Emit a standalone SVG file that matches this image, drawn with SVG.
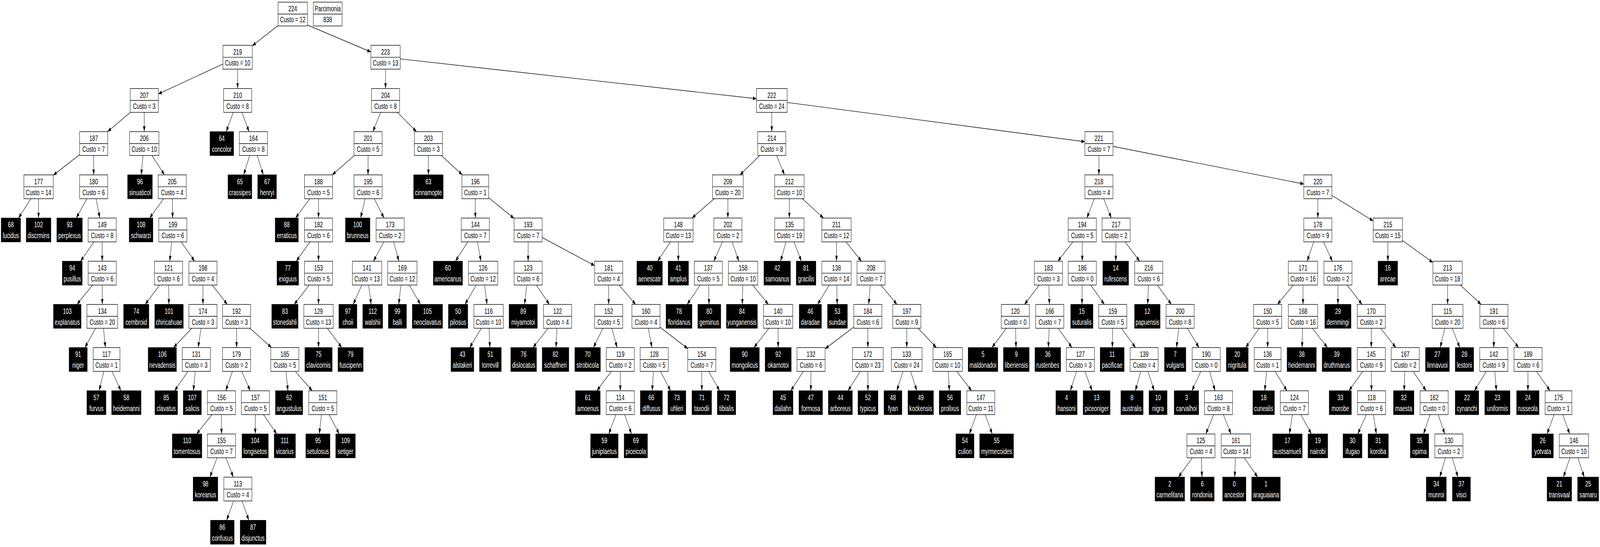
<svg xmlns="http://www.w3.org/2000/svg" width="6462" height="1401" viewBox="0 0 6462 1401" preserveAspectRatio="none" style="width:100vw;height:100vh;display:block">
<style>
.i rect{fill:#fff;stroke:#000;stroke-width:1.4}
.i path{stroke:#000;stroke-width:1.4;fill:none}
.f rect{fill:#000;stroke:#000;stroke-width:1.4}
text{font-family:"Liberation Sans",Arial,sans-serif;font-size:21px;text-anchor:middle}
.i text{fill:#000}
.f text{fill:#fff}
#edges path{stroke:#000;stroke-width:1.4;fill:none;marker-end:url(#ah)}
</style>
<defs>
<marker id="ah" markerUnits="userSpaceOnUse" markerWidth="14" markerHeight="10" refX="14" refY="5" orient="auto" viewBox="0 0 14 10"><path d="M0,0L14,5L0,10z" fill="#000"/></marker>
</defs>
<rect width="6462" height="1401" fill="#fff"/>
<g id="edges">
<path d="M1182.3 36L1019 117.2"/>
<path d="M1241.5 64L1497.8 133"/>
<path d="M959.7 146.6L639.4 240.6"/>
<path d="M959.7 146.6L959.7 226.7"/>
<path d="M1557 146.6L1557 226.7"/>
<path d="M1557 146.6L3055 252.8"/>
<path d="M582.6 257.2L434.6 337.3"/>
<path d="M582.6 257.2L582.6 337.3"/>
<path d="M959.7 257.2L913.4 337.3"/>
<path d="M959.7 257.2L1005.9 337.3"/>
<path d="M1557 257.2L1505.9 337.3"/>
<path d="M1557 257.2L1682.4 337.3"/>
<path d="M3117 257.2L3117 337.3"/>
<path d="M3117 257.2L4381.5 363"/>
<path d="M378.3 367.8L215 449"/>
<path d="M378.3 367.8L378.3 447.9"/>
<path d="M582.6 367.8L570.1 447.9"/>
<path d="M582.6 367.8L664.4 447.9"/>
<path d="M1023.5 367.8L984 447.9"/>
<path d="M1023.5 367.8L1063.5 447.9"/>
<path d="M1486.5 367.8L1341.6 447.9"/>
<path d="M1486.5 367.8L1486.5 447.9"/>
<path d="M1730.2 367.8L1730.3 447.9"/>
<path d="M1730.2 367.8L1867.4 447.9"/>
<path d="M3117 367.8L2988.6 447.9"/>
<path d="M3117 367.8L3168.4 447.9"/>
<path d="M4438.2 367.8L4438.2 447.9"/>
<path d="M4438.2 367.8L5265.8 471.3"/>
<path d="M155.7 478.4L74.7 558.5"/>
<path d="M155.7 478.4L155.7 558.5"/>
<path d="M378.3 478.4L307.8 558.5"/>
<path d="M378.3 478.4L403.3 558.5"/>
<path d="M695.5 478.4L604.3 558.5"/>
<path d="M695.5 478.4L697.3 558.5"/>
<path d="M1286.4 478.4L1193.6 558.5"/>
<path d="M1286.4 478.4L1286.4 558.5"/>
<path d="M1486.5 478.4L1456.2 558.5"/>
<path d="M1486.5 478.4L1551.2 558.5"/>
<path d="M1919.7 478.4L1919.7 558.5"/>
<path d="M1919.7 478.4L2076.3 559.6"/>
<path d="M2939.7 478.4L2794.9 558.5"/>
<path d="M2939.7 478.4L2939.7 558.5"/>
<path d="M3188 478.4L3188 558.5"/>
<path d="M3188 478.4L3325.9 558.5"/>
<path d="M4438.2 478.4L4389.5 558.5"/>
<path d="M4438.2 478.4L4488.5 558.5"/>
<path d="M5322.5 478.4L5322.5 558.5"/>
<path d="M5322.5 478.4L5546 565.8"/>
<path d="M412.8 589L325.2 669.1"/>
<path d="M412.8 589L412.8 669.1"/>
<path d="M698 589L685.5 669.1"/>
<path d="M698 589L786.1 669.1"/>
<path d="M1286.4 589L1196.5 669.1"/>
<path d="M1286.4 589L1286.4 669.1"/>
<path d="M1575.8 589L1508.2 669.1"/>
<path d="M1575.8 589L1611.4 669.1"/>
<path d="M1919.7 589L1839.5 669.1"/>
<path d="M1919.7 589L1942.4 669.1"/>
<path d="M2133 589L2133 669.1"/>
<path d="M2133 589L2401.6 680.3"/>
<path d="M2739.8 589L2655.7 669.1"/>
<path d="M2739.8 589L2739.6 669.1"/>
<path d="M2939.7 589L2882.6 669.1"/>
<path d="M2939.7 589L2984.2 669.1"/>
<path d="M3188 589L3152.5 669.1"/>
<path d="M3188 589L3236.9 669.1"/>
<path d="M3378.4 589L3378.4 669.1"/>
<path d="M3378.4 589L3479.5 669.1"/>
<path d="M4371 589L4272.1 669.1"/>
<path d="M4371 589L4371 669.1"/>
<path d="M4507.6 589L4506.4 669.1"/>
<path d="M4507.6 589L4603.1 669.1"/>
<path d="M5322.5 589L5279 669.1"/>
<path d="M5322.5 589L5381.2 669.1"/>
<path d="M5605.2 589L5605.2 669.1"/>
<path d="M5605.2 589L5787 672.4"/>
<path d="M412.8 699.6L310.7 779.7"/>
<path d="M412.8 699.6L413.1 779.7"/>
<path d="M680.8 699.6L586.3 779.7"/>
<path d="M680.8 699.6L682.1 779.7"/>
<path d="M819.7 699.6L819.7 779.7"/>
<path d="M819.7 699.6L918 779.7"/>
<path d="M1286.4 699.6L1188.1 779.7"/>
<path d="M1286.4 699.6L1286.4 779.7"/>
<path d="M1482.5 699.6L1426.4 779.7"/>
<path d="M1482.5 699.6L1499 779.7"/>
<path d="M1624.9 699.6L1610.4 779.7"/>
<path d="M1624.9 699.6L1698.3 779.7"/>
<path d="M1951.1 699.6L1877.9 779.7"/>
<path d="M1951.1 699.6L1967.1 779.7"/>
<path d="M2133 699.6L2118.6 779.7"/>
<path d="M2133 699.6L2219.1 779.7"/>
<path d="M2458.3 699.6L2458.3 779.7"/>
<path d="M2458.3 699.6L2567.4 779.7"/>
<path d="M2860.8 699.6L2775 779.7"/>
<path d="M2860.8 699.6L2863.6 779.7"/>
<path d="M3001.1 699.6L2997.8 779.7"/>
<path d="M3001.1 699.6L3103.4 779.7"/>
<path d="M3378.4 699.6L3301.9 779.7"/>
<path d="M3378.4 699.6L3381.2 779.7"/>
<path d="M3518 699.6L3508.6 779.7"/>
<path d="M3518 699.6L3622.6 779.7"/>
<path d="M4234.5 699.6L4137.5 779.7"/>
<path d="M4234.5 699.6L4238.3 779.7"/>
<path d="M4371 699.6L4369.8 779.7"/>
<path d="M4371 699.6L4460.3 779.7"/>
<path d="M4639.5 699.6L4635.4 779.7"/>
<path d="M4639.5 699.6L4731.2 779.7"/>
<path d="M5262.5 699.6L5159.1 779.7"/>
<path d="M5262.5 699.6L5262.5 779.7"/>
<path d="M5403.6 699.6L5403.6 779.7"/>
<path d="M5403.6 699.6L5501.1 779.7"/>
<path d="M5846.3 699.6L5846.6 779.7"/>
<path d="M5846.3 699.6L5981.8 779.7"/>
<path d="M413.2 810.2L342.6 890.3"/>
<path d="M413.2 810.2L425.7 890.3"/>
<path d="M819.7 810.2L700.8 890.3"/>
<path d="M819.7 810.2L800.1 890.3"/>
<path d="M955.5 810.2L955.5 890.3"/>
<path d="M955.5 810.2L1096.6 890.3"/>
<path d="M1286.4 810.2L1286.4 890.3"/>
<path d="M1286.4 810.2L1380.2 890.3"/>
<path d="M1973.2 810.2L1896.7 890.3"/>
<path d="M1973.2 810.2L1978.5 890.3"/>
<path d="M2251.9 810.2L2152.6 890.3"/>
<path d="M2251.9 810.2L2245.8 890.3"/>
<path d="M2458.3 810.2L2396.7 890.3"/>
<path d="M2458.3 810.2L2492.3 890.3"/>
<path d="M2609 810.2L2633.1 890.3"/>
<path d="M2609 810.2L2777.8 893"/>
<path d="M3142.4 810.2L3044.9 890.3"/>
<path d="M3142.4 810.2L3142.8 890.3"/>
<path d="M3505 810.2L3332.3 893.5"/>
<path d="M3505 810.2L3505 890.3"/>
<path d="M3662.5 810.2L3662.2 890.3"/>
<path d="M3662.5 810.2L3781.9 890.3"/>
<path d="M4100.5 810.2L4006 890.3"/>
<path d="M4100.5 810.2L4103.5 890.3"/>
<path d="M4239.7 810.2L4233.9 890.3"/>
<path d="M4239.7 810.2L4329.3 890.3"/>
<path d="M4494.3 810.2L4492.5 890.3"/>
<path d="M4494.3 810.2L4586 890.3"/>
<path d="M4766.1 810.2L4751.7 890.3"/>
<path d="M4766.1 810.2L4842.6 890.3"/>
<path d="M5119.7 810.2L5030.8 890.3"/>
<path d="M5119.7 810.2L5119.7 890.3"/>
<path d="M5262.5 810.2L5258.7 890.3"/>
<path d="M5262.5 810.2L5361.1 890.3"/>
<path d="M5538.2 810.2L5538.2 890.3"/>
<path d="M5538.2 810.2L5637.5 890.3"/>
<path d="M5846.7 810.2L5816.7 890.3"/>
<path d="M5846.7 810.2L5895.7 890.3"/>
<path d="M6033.4 810.2L6033.1 890.3"/>
<path d="M6033.4 810.2L6133.4 890.3"/>
<path d="M430.4 920.8L400.6 1000.9"/>
<path d="M430.4 920.8L488.3 1000.9"/>
<path d="M792.7 920.8L704.9 1000.9"/>
<path d="M792.7 920.8L781 1000.9"/>
<path d="M955.5 920.8L911.3 1000.9"/>
<path d="M955.5 920.8L1010.6 1000.9"/>
<path d="M1150.3 920.8L1162.8 1000.9"/>
<path d="M1150.3 920.8L1261.3 1000.9"/>
<path d="M2505.2 920.8L2410.4 1000.9"/>
<path d="M2505.2 920.8L2505.2 1000.9"/>
<path d="M2642.3 920.8L2633.9 1000.9"/>
<path d="M2642.3 920.8L2708.6 1000.9"/>
<path d="M2834.5 920.8L2834.4 1000.9"/>
<path d="M2834.5 920.8L2906.6 1000.9"/>
<path d="M3275.5 920.8L3193.5 1000.9"/>
<path d="M3275.5 920.8L3274.7 1000.9"/>
<path d="M3505 920.8L3424.7 1000.9"/>
<path d="M3505 920.8L3505.4 1000.9"/>
<path d="M3662.1 920.8L3621.8 1000.9"/>
<path d="M3662.1 920.8L3703 1000.9"/>
<path d="M3827.3 920.8L3834.2 1000.9"/>
<path d="M3827.3 920.8L3924.3 1000.9"/>
<path d="M4363.4 920.8L4322.8 1000.9"/>
<path d="M4363.4 920.8L4410.9 1000.9"/>
<path d="M4620.9 920.8L4585.3 1000.9"/>
<path d="M4620.9 920.8L4661.6 1000.9"/>
<path d="M4871.7 920.8L4813.8 1000.9"/>
<path d="M4871.7 920.8L4907.5 1000.9"/>
<path d="M5119.7 920.8L5108 1000.9"/>
<path d="M5119.7 920.8L5197.9 1000.9"/>
<path d="M5538.2 920.8L5447.7 1000.9"/>
<path d="M5538.2 920.8L5539.1 1000.9"/>
<path d="M5675.3 920.8L5670.9 1000.9"/>
<path d="M5675.3 920.8L5759.8 1000.9"/>
<path d="M6033 920.8L5954.6 1000.9"/>
<path d="M6033 920.8L6043.6 1000.9"/>
<path d="M6171.5 920.8L6170.8 1000.9"/>
<path d="M6171.5 920.8L6260.5 1000.9"/>
<path d="M894.5 1031.4L793.8 1111.5"/>
<path d="M894.5 1031.4L894.5 1111.5"/>
<path d="M1031.6 1031.4L1030.9 1111.5"/>
<path d="M1031.6 1031.4L1117.6 1111.5"/>
<path d="M1303.6 1031.4L1289.4 1111.5"/>
<path d="M1303.6 1031.4L1370.2 1111.5"/>
<path d="M2505.2 1031.4L2458.6 1111.5"/>
<path d="M2505.2 1031.4L2550.6 1111.5"/>
<path d="M3961.3 1031.4L3914.8 1111.5"/>
<path d="M3961.3 1031.4L4007.5 1111.5"/>
<path d="M4921.2 1031.4L4869.9 1111.5"/>
<path d="M4921.2 1031.4L4972 1111.5"/>
<path d="M5227.7 1031.4L5207.3 1111.5"/>
<path d="M5227.7 1031.4L5296.4 1111.5"/>
<path d="M5539.4 1031.4L5483.7 1111.5"/>
<path d="M5539.4 1031.4L5558.8 1111.5"/>
<path d="M5792 1031.4L5749.3 1111.5"/>
<path d="M5792 1031.4L5835.2 1111.5"/>
<path d="M6294.4 1031.4L6248.1 1111.5"/>
<path d="M6294.4 1031.4L6339.5 1111.5"/>
<path d="M894.5 1142L847.7 1222.1"/>
<path d="M894.5 1142L942.4 1222.1"/>
<path d="M4850.3 1142L4759.3 1222.1"/>
<path d="M4850.3 1142L4854.4 1222.1"/>
<path d="M4991.3 1142L4986.7 1222.1"/>
<path d="M4991.3 1142L5079.5 1222.1"/>
<path d="M5851.6 1142L5814.8 1222.1"/>
<path d="M5851.6 1142L5888.2 1222.1"/>
<path d="M6356.7 1142L6314.1 1222.1"/>
<path d="M6356.7 1142L6398.3 1222.1"/>
<path d="M960.7 1252.6L915.2 1332.7"/>
<path d="M960.7 1252.6L1005.2 1332.7"/>
</g>
<g id="nodes">
<g id="parcimonia" class="i" transform="translate(1323.6 5.5)"><rect x="-58.2" width="116.4" height="61"/><path d="M-58.2 30.5H58.2"/><text y="24">Parcimonia</text><text y="52">838</text></g>
<g id="n224" class="i" transform="translate(1182.3 5.5)"><rect x="-59.25" width="118.5" height="61"/><path d="M-59.25 30.5H59.25"/><text y="24">224</text><text y="52">Custo = 12</text></g>
<g id="n219" class="i" transform="translate(959.7 116.1)"><rect x="-59.25" width="118.5" height="61"/><path d="M-59.25 30.5H59.25"/><text y="24">219</text><text y="52">Custo = 10</text></g>
<g id="n223" class="i" transform="translate(1557 116.1)"><rect x="-59.25" width="118.5" height="61"/><path d="M-59.25 30.5H59.25"/><text y="24">223</text><text y="52">Custo = 13</text></g>
<g id="n207" class="i" transform="translate(582.6 226.7)"><rect x="-56.75" width="113.5" height="61"/><path d="M-56.75 30.5H56.75"/><text y="24">207</text><text y="52">Custo = 3</text></g>
<g id="n210" class="i" transform="translate(959.7 226.7)"><rect x="-56.75" width="113.5" height="61"/><path d="M-56.75 30.5H56.75"/><text y="24">210</text><text y="52">Custo = 8</text></g>
<g id="n204" class="i" transform="translate(1557 226.7)"><rect x="-56.75" width="113.5" height="61"/><path d="M-56.75 30.5H56.75"/><text y="24">204</text><text y="52">Custo = 8</text></g>
<g id="n222" class="i" transform="translate(3117 226.7)"><rect x="-62" width="124" height="61"/><path d="M-62 30.5H62"/><text y="24">222</text><text y="52">Custo = 24</text></g>
<g id="n187" class="i" transform="translate(378.3 337.3)"><rect x="-56.75" width="113.5" height="61"/><path d="M-56.75 30.5H56.75"/><text y="24">187</text><text y="52">Custo = 7</text></g>
<g id="n206" class="i" transform="translate(582.6 337.3)"><rect x="-59.25" width="118.5" height="61"/><path d="M-59.25 30.5H59.25"/><text y="24">206</text><text y="52">Custo = 10</text></g>
<g id="n164" class="i" transform="translate(1023.5 337.3)"><rect x="-56.75" width="113.5" height="61"/><path d="M-56.75 30.5H56.75"/><text y="24">164</text><text y="52">Custo = 8</text></g>
<g id="n201" class="i" transform="translate(1486.5 337.3)"><rect x="-56.75" width="113.5" height="61"/><path d="M-56.75 30.5H56.75"/><text y="24">201</text><text y="52">Custo = 5</text></g>
<g id="n203" class="i" transform="translate(1730.2 337.3)"><rect x="-56.75" width="113.5" height="61"/><path d="M-56.75 30.5H56.75"/><text y="24">203</text><text y="52">Custo = 3</text></g>
<g id="n214" class="i" transform="translate(3117 337.3)"><rect x="-56.75" width="113.5" height="61"/><path d="M-56.75 30.5H56.75"/><text y="24">214</text><text y="52">Custo = 8</text></g>
<g id="n221" class="i" transform="translate(4438.2 337.3)"><rect x="-56.75" width="113.5" height="61"/><path d="M-56.75 30.5H56.75"/><text y="24">221</text><text y="52">Custo = 7</text></g>
<g id="n177" class="i" transform="translate(155.7 447.9)"><rect x="-59.25" width="118.5" height="61"/><path d="M-59.25 30.5H59.25"/><text y="24">177</text><text y="52">Custo = 14</text></g>
<g id="n180" class="i" transform="translate(378.3 447.9)"><rect x="-56.75" width="113.5" height="61"/><path d="M-56.75 30.5H56.75"/><text y="24">180</text><text y="52">Custo = 6</text></g>
<g id="n205" class="i" transform="translate(695.5 447.9)"><rect x="-56.75" width="113.5" height="61"/><path d="M-56.75 30.5H56.75"/><text y="24">205</text><text y="52">Custo = 4</text></g>
<g id="n188" class="i" transform="translate(1286.4 447.9)"><rect x="-56.75" width="113.5" height="61"/><path d="M-56.75 30.5H56.75"/><text y="24">188</text><text y="52">Custo = 5</text></g>
<g id="n195" class="i" transform="translate(1486.5 447.9)"><rect x="-56.75" width="113.5" height="61"/><path d="M-56.75 30.5H56.75"/><text y="24">195</text><text y="52">Custo = 6</text></g>
<g id="n196" class="i" transform="translate(1919.7 447.9)"><rect x="-54" width="108" height="61"/><path d="M-54 30.5H54"/><text y="24">196</text><text y="52">Custo = 1</text></g>
<g id="n209" class="i" transform="translate(2939.7 447.9)"><rect x="-62" width="124" height="61"/><path d="M-62 30.5H62"/><text y="24">209</text><text y="52">Custo = 20</text></g>
<g id="n212" class="i" transform="translate(3188 447.9)"><rect x="-59.25" width="118.5" height="61"/><path d="M-59.25 30.5H59.25"/><text y="24">212</text><text y="52">Custo = 10</text></g>
<g id="n218" class="i" transform="translate(4438.2 447.9)"><rect x="-56.75" width="113.5" height="61"/><path d="M-56.75 30.5H56.75"/><text y="24">218</text><text y="52">Custo = 4</text></g>
<g id="n220" class="i" transform="translate(5322.5 447.9)"><rect x="-56.75" width="113.5" height="61"/><path d="M-56.75 30.5H56.75"/><text y="24">220</text><text y="52">Custo = 7</text></g>
<g id="n149" class="i" transform="translate(412.8 558.5)"><rect x="-56.75" width="113.5" height="61"/><path d="M-56.75 30.5H56.75"/><text y="24">149</text><text y="52">Custo = 8</text></g>
<g id="n199" class="i" transform="translate(698 558.5)"><rect x="-56.75" width="113.5" height="61"/><path d="M-56.75 30.5H56.75"/><text y="24">199</text><text y="52">Custo = 6</text></g>
<g id="n182" class="i" transform="translate(1286.4 558.5)"><rect x="-56.75" width="113.5" height="61"/><path d="M-56.75 30.5H56.75"/><text y="24">182</text><text y="52">Custo = 6</text></g>
<g id="n173" class="i" transform="translate(1575.8 558.5)"><rect x="-56.75" width="113.5" height="61"/><path d="M-56.75 30.5H56.75"/><text y="24">173</text><text y="52">Custo = 2</text></g>
<g id="n144" class="i" transform="translate(1919.7 558.5)"><rect x="-56.75" width="113.5" height="61"/><path d="M-56.75 30.5H56.75"/><text y="24">144</text><text y="52">Custo = 7</text></g>
<g id="n193" class="i" transform="translate(2133 558.5)"><rect x="-56.75" width="113.5" height="61"/><path d="M-56.75 30.5H56.75"/><text y="24">193</text><text y="52">Custo = 7</text></g>
<g id="n148" class="i" transform="translate(2739.8 558.5)"><rect x="-59.25" width="118.5" height="61"/><path d="M-59.25 30.5H59.25"/><text y="24">148</text><text y="52">Custo = 13</text></g>
<g id="n202" class="i" transform="translate(2939.7 558.5)"><rect x="-56.75" width="113.5" height="61"/><path d="M-56.75 30.5H56.75"/><text y="24">202</text><text y="52">Custo = 2</text></g>
<g id="n135" class="i" transform="translate(3188 558.5)"><rect x="-59.25" width="118.5" height="61"/><path d="M-59.25 30.5H59.25"/><text y="24">135</text><text y="52">Custo = 19</text></g>
<g id="n211" class="i" transform="translate(3378.4 558.5)"><rect x="-59.25" width="118.5" height="61"/><path d="M-59.25 30.5H59.25"/><text y="24">211</text><text y="52">Custo = 12</text></g>
<g id="n194" class="i" transform="translate(4371 558.5)"><rect x="-56.75" width="113.5" height="61"/><path d="M-56.75 30.5H56.75"/><text y="24">194</text><text y="52">Custo = 5</text></g>
<g id="n217" class="i" transform="translate(4507.6 558.5)"><rect x="-56.75" width="113.5" height="61"/><path d="M-56.75 30.5H56.75"/><text y="24">217</text><text y="52">Custo = 2</text></g>
<g id="n178" class="i" transform="translate(5322.5 558.5)"><rect x="-56.75" width="113.5" height="61"/><path d="M-56.75 30.5H56.75"/><text y="24">178</text><text y="52">Custo = 9</text></g>
<g id="n215" class="i" transform="translate(5605.2 558.5)"><rect x="-59.25" width="118.5" height="61"/><path d="M-59.25 30.5H59.25"/><text y="24">215</text><text y="52">Custo = 15</text></g>
<g id="n143" class="i" transform="translate(412.8 669.1)"><rect x="-56.75" width="113.5" height="61"/><path d="M-56.75 30.5H56.75"/><text y="24">143</text><text y="52">Custo = 6</text></g>
<g id="n121" class="i" transform="translate(680.8 669.1)"><rect x="-56.75" width="113.5" height="61"/><path d="M-56.75 30.5H56.75"/><text y="24">121</text><text y="52">Custo = 6</text></g>
<g id="n198" class="i" transform="translate(819.7 669.1)"><rect x="-56.75" width="113.5" height="61"/><path d="M-56.75 30.5H56.75"/><text y="24">198</text><text y="52">Custo = 4</text></g>
<g id="n153" class="i" transform="translate(1286.4 669.1)"><rect x="-56.75" width="113.5" height="61"/><path d="M-56.75 30.5H56.75"/><text y="24">153</text><text y="52">Custo = 5</text></g>
<g id="n141" class="i" transform="translate(1482.5 669.1)"><rect x="-59.25" width="118.5" height="61"/><path d="M-59.25 30.5H59.25"/><text y="24">141</text><text y="52">Custo = 13</text></g>
<g id="n169" class="i" transform="translate(1624.9 669.1)"><rect x="-59.25" width="118.5" height="61"/><path d="M-59.25 30.5H59.25"/><text y="24">169</text><text y="52">Custo = 12</text></g>
<g id="n126" class="i" transform="translate(1951.1 669.1)"><rect x="-59.25" width="118.5" height="61"/><path d="M-59.25 30.5H59.25"/><text y="24">126</text><text y="52">Custo = 12</text></g>
<g id="n123" class="i" transform="translate(2133 669.1)"><rect x="-56.75" width="113.5" height="61"/><path d="M-56.75 30.5H56.75"/><text y="24">123</text><text y="52">Custo = 6</text></g>
<g id="n181" class="i" transform="translate(2458.3 669.1)"><rect x="-56.75" width="113.5" height="61"/><path d="M-56.75 30.5H56.75"/><text y="24">181</text><text y="52">Custo = 4</text></g>
<g id="n137" class="i" transform="translate(2860.8 669.1)"><rect x="-56.75" width="113.5" height="61"/><path d="M-56.75 30.5H56.75"/><text y="24">137</text><text y="52">Custo = 5</text></g>
<g id="n158" class="i" transform="translate(3001.1 669.1)"><rect x="-59.25" width="118.5" height="61"/><path d="M-59.25 30.5H59.25"/><text y="24">158</text><text y="52">Custo = 10</text></g>
<g id="n138" class="i" transform="translate(3378.4 669.1)"><rect x="-59.25" width="118.5" height="61"/><path d="M-59.25 30.5H59.25"/><text y="24">138</text><text y="52">Custo = 14</text></g>
<g id="n208" class="i" transform="translate(3518 669.1)"><rect x="-56.75" width="113.5" height="61"/><path d="M-56.75 30.5H56.75"/><text y="24">208</text><text y="52">Custo = 7</text></g>
<g id="n183" class="i" transform="translate(4234.5 669.1)"><rect x="-56.75" width="113.5" height="61"/><path d="M-56.75 30.5H56.75"/><text y="24">183</text><text y="52">Custo = 3</text></g>
<g id="n186" class="i" transform="translate(4371 669.1)"><rect x="-56.75" width="113.5" height="61"/><path d="M-56.75 30.5H56.75"/><text y="24">186</text><text y="52">Custo = 0</text></g>
<g id="n216" class="i" transform="translate(4639.5 669.1)"><rect x="-56.75" width="113.5" height="61"/><path d="M-56.75 30.5H56.75"/><text y="24">216</text><text y="52">Custo = 6</text></g>
<g id="n171" class="i" transform="translate(5262.5 669.1)"><rect x="-59.25" width="118.5" height="61"/><path d="M-59.25 30.5H59.25"/><text y="24">171</text><text y="52">Custo = 16</text></g>
<g id="n176" class="i" transform="translate(5403.6 669.1)"><rect x="-56.75" width="113.5" height="61"/><path d="M-56.75 30.5H56.75"/><text y="24">176</text><text y="52">Custo = 2</text></g>
<g id="n213" class="i" transform="translate(5846.3 669.1)"><rect x="-59.25" width="118.5" height="61"/><path d="M-59.25 30.5H59.25"/><text y="24">213</text><text y="52">Custo = 18</text></g>
<g id="n134" class="i" transform="translate(413.2 779.7)"><rect x="-62" width="124" height="61"/><path d="M-62 30.5H62"/><text y="24">134</text><text y="52">Custo = 20</text></g>
<g id="n174" class="i" transform="translate(819.7 779.7)"><rect x="-56.75" width="113.5" height="61"/><path d="M-56.75 30.5H56.75"/><text y="24">174</text><text y="52">Custo = 3</text></g>
<g id="n192" class="i" transform="translate(955.5 779.7)"><rect x="-56.75" width="113.5" height="61"/><path d="M-56.75 30.5H56.75"/><text y="24">192</text><text y="52">Custo = 3</text></g>
<g id="n129" class="i" transform="translate(1286.4 779.7)"><rect x="-59.25" width="118.5" height="61"/><path d="M-59.25 30.5H59.25"/><text y="24">129</text><text y="52">Custo = 13</text></g>
<g id="n116" class="i" transform="translate(1973.2 779.7)"><rect x="-59.25" width="118.5" height="61"/><path d="M-59.25 30.5H59.25"/><text y="24">116</text><text y="52">Custo = 10</text></g>
<g id="n122" class="i" transform="translate(2251.9 779.7)"><rect x="-56.75" width="113.5" height="61"/><path d="M-56.75 30.5H56.75"/><text y="24">122</text><text y="52">Custo = 4</text></g>
<g id="n152" class="i" transform="translate(2458.3 779.7)"><rect x="-56.75" width="113.5" height="61"/><path d="M-56.75 30.5H56.75"/><text y="24">152</text><text y="52">Custo = 5</text></g>
<g id="n160" class="i" transform="translate(2609 779.7)"><rect x="-56.75" width="113.5" height="61"/><path d="M-56.75 30.5H56.75"/><text y="24">160</text><text y="52">Custo = 4</text></g>
<g id="n140" class="i" transform="translate(3142.4 779.7)"><rect x="-59.25" width="118.5" height="61"/><path d="M-59.25 30.5H59.25"/><text y="24">140</text><text y="52">Custo = 10</text></g>
<g id="n184" class="i" transform="translate(3505 779.7)"><rect x="-56.75" width="113.5" height="61"/><path d="M-56.75 30.5H56.75"/><text y="24">184</text><text y="52">Custo = 6</text></g>
<g id="n197" class="i" transform="translate(3662.5 779.7)"><rect x="-56.75" width="113.5" height="61"/><path d="M-56.75 30.5H56.75"/><text y="24">197</text><text y="52">Custo = 9</text></g>
<g id="n120" class="i" transform="translate(4100.5 779.7)"><rect x="-56.75" width="113.5" height="61"/><path d="M-56.75 30.5H56.75"/><text y="24">120</text><text y="52">Custo = 0</text></g>
<g id="n166" class="i" transform="translate(4239.7 779.7)"><rect x="-56.75" width="113.5" height="61"/><path d="M-56.75 30.5H56.75"/><text y="24">166</text><text y="52">Custo = 7</text></g>
<g id="n159" class="i" transform="translate(4494.3 779.7)"><rect x="-56.75" width="113.5" height="61"/><path d="M-56.75 30.5H56.75"/><text y="24">159</text><text y="52">Custo = 5</text></g>
<g id="n200" class="i" transform="translate(4766.1 779.7)"><rect x="-56.75" width="113.5" height="61"/><path d="M-56.75 30.5H56.75"/><text y="24">200</text><text y="52">Custo = 8</text></g>
<g id="n150" class="i" transform="translate(5119.7 779.7)"><rect x="-56.75" width="113.5" height="61"/><path d="M-56.75 30.5H56.75"/><text y="24">150</text><text y="52">Custo = 5</text></g>
<g id="n168" class="i" transform="translate(5262.5 779.7)"><rect x="-59.25" width="118.5" height="61"/><path d="M-59.25 30.5H59.25"/><text y="24">168</text><text y="52">Custo = 16</text></g>
<g id="n170" class="i" transform="translate(5538.2 779.7)"><rect x="-56.75" width="113.5" height="61"/><path d="M-56.75 30.5H56.75"/><text y="24">170</text><text y="52">Custo = 2</text></g>
<g id="n115" class="i" transform="translate(5846.7 779.7)"><rect x="-62" width="124" height="61"/><path d="M-62 30.5H62"/><text y="24">115</text><text y="52">Custo = 20</text></g>
<g id="n191" class="i" transform="translate(6033.4 779.7)"><rect x="-56.75" width="113.5" height="61"/><path d="M-56.75 30.5H56.75"/><text y="24">191</text><text y="52">Custo = 6</text></g>
<g id="n117" class="i" transform="translate(430.4 890.3)"><rect x="-54" width="108" height="61"/><path d="M-54 30.5H54"/><text y="24">117</text><text y="52">Custo = 1</text></g>
<g id="n131" class="i" transform="translate(792.7 890.3)"><rect x="-56.75" width="113.5" height="61"/><path d="M-56.75 30.5H56.75"/><text y="24">131</text><text y="52">Custo = 3</text></g>
<g id="n179" class="i" transform="translate(955.5 890.3)"><rect x="-56.75" width="113.5" height="61"/><path d="M-56.75 30.5H56.75"/><text y="24">179</text><text y="52">Custo = 2</text></g>
<g id="n185" class="i" transform="translate(1150.3 890.3)"><rect x="-56.75" width="113.5" height="61"/><path d="M-56.75 30.5H56.75"/><text y="24">185</text><text y="52">Custo = 5</text></g>
<g id="n119" class="i" transform="translate(2505.2 890.3)"><rect x="-56.75" width="113.5" height="61"/><path d="M-56.75 30.5H56.75"/><text y="24">119</text><text y="52">Custo = 2</text></g>
<g id="n128" class="i" transform="translate(2642.3 890.3)"><rect x="-56.75" width="113.5" height="61"/><path d="M-56.75 30.5H56.75"/><text y="24">128</text><text y="52">Custo = 5</text></g>
<g id="n154" class="i" transform="translate(2834.5 890.3)"><rect x="-56.75" width="113.5" height="61"/><path d="M-56.75 30.5H56.75"/><text y="24">154</text><text y="52">Custo = 7</text></g>
<g id="n132" class="i" transform="translate(3275.5 890.3)"><rect x="-56.75" width="113.5" height="61"/><path d="M-56.75 30.5H56.75"/><text y="24">132</text><text y="52">Custo = 6</text></g>
<g id="n172" class="i" transform="translate(3505 890.3)"><rect x="-62" width="124" height="61"/><path d="M-62 30.5H62"/><text y="24">172</text><text y="52">Custo = 23</text></g>
<g id="n133" class="i" transform="translate(3662.1 890.3)"><rect x="-62" width="124" height="61"/><path d="M-62 30.5H62"/><text y="24">133</text><text y="52">Custo = 24</text></g>
<g id="n165" class="i" transform="translate(3827.3 890.3)"><rect x="-59.25" width="118.5" height="61"/><path d="M-59.25 30.5H59.25"/><text y="24">165</text><text y="52">Custo = 10</text></g>
<g id="n127" class="i" transform="translate(4363.4 890.3)"><rect x="-56.75" width="113.5" height="61"/><path d="M-56.75 30.5H56.75"/><text y="24">127</text><text y="52">Custo = 3</text></g>
<g id="n139" class="i" transform="translate(4620.9 890.3)"><rect x="-56.75" width="113.5" height="61"/><path d="M-56.75 30.5H56.75"/><text y="24">139</text><text y="52">Custo = 4</text></g>
<g id="n190" class="i" transform="translate(4871.7 890.3)"><rect x="-56.75" width="113.5" height="61"/><path d="M-56.75 30.5H56.75"/><text y="24">190</text><text y="52">Custo = 0</text></g>
<g id="n136" class="i" transform="translate(5119.7 890.3)"><rect x="-54" width="108" height="61"/><path d="M-54 30.5H54"/><text y="24">136</text><text y="52">Custo = 1</text></g>
<g id="n145" class="i" transform="translate(5538.2 890.3)"><rect x="-56.75" width="113.5" height="61"/><path d="M-56.75 30.5H56.75"/><text y="24">145</text><text y="52">Custo = 9</text></g>
<g id="n167" class="i" transform="translate(5675.3 890.3)"><rect x="-56.75" width="113.5" height="61"/><path d="M-56.75 30.5H56.75"/><text y="24">167</text><text y="52">Custo = 2</text></g>
<g id="n142" class="i" transform="translate(6033 890.3)"><rect x="-56.75" width="113.5" height="61"/><path d="M-56.75 30.5H56.75"/><text y="24">142</text><text y="52">Custo = 9</text></g>
<g id="n189" class="i" transform="translate(6171.5 890.3)"><rect x="-56.75" width="113.5" height="61"/><path d="M-56.75 30.5H56.75"/><text y="24">189</text><text y="52">Custo = 6</text></g>
<g id="n156" class="i" transform="translate(894.5 1000.9)"><rect x="-56.75" width="113.5" height="61"/><path d="M-56.75 30.5H56.75"/><text y="24">156</text><text y="52">Custo = 5</text></g>
<g id="n157" class="i" transform="translate(1031.6 1000.9)"><rect x="-56.75" width="113.5" height="61"/><path d="M-56.75 30.5H56.75"/><text y="24">157</text><text y="52">Custo = 5</text></g>
<g id="n151" class="i" transform="translate(1303.6 1000.9)"><rect x="-56.75" width="113.5" height="61"/><path d="M-56.75 30.5H56.75"/><text y="24">151</text><text y="52">Custo = 5</text></g>
<g id="n114" class="i" transform="translate(2505.2 1000.9)"><rect x="-56.75" width="113.5" height="61"/><path d="M-56.75 30.5H56.75"/><text y="24">114</text><text y="52">Custo = 6</text></g>
<g id="n147" class="i" transform="translate(3961.3 1000.9)"><rect x="-56.5" width="113" height="61"/><path d="M-56.5 30.5H56.5"/><text y="24">147</text><text y="52">Custo = 11</text></g>
<g id="n163" class="i" transform="translate(4921.2 1000.9)"><rect x="-56.75" width="113.5" height="61"/><path d="M-56.75 30.5H56.75"/><text y="24">163</text><text y="52">Custo = 8</text></g>
<g id="n124" class="i" transform="translate(5227.7 1000.9)"><rect x="-56.75" width="113.5" height="61"/><path d="M-56.75 30.5H56.75"/><text y="24">124</text><text y="52">Custo = 7</text></g>
<g id="n118" class="i" transform="translate(5539.4 1000.9)"><rect x="-56.75" width="113.5" height="61"/><path d="M-56.75 30.5H56.75"/><text y="24">118</text><text y="52">Custo = 6</text></g>
<g id="n162" class="i" transform="translate(5792 1000.9)"><rect x="-56.75" width="113.5" height="61"/><path d="M-56.75 30.5H56.75"/><text y="24">162</text><text y="52">Custo = 0</text></g>
<g id="n175" class="i" transform="translate(6294.4 1000.9)"><rect x="-54" width="108" height="61"/><path d="M-54 30.5H54"/><text y="24">175</text><text y="52">Custo = 1</text></g>
<g id="n155" class="i" transform="translate(894.5 1111.5)"><rect x="-56.75" width="113.5" height="61"/><path d="M-56.75 30.5H56.75"/><text y="24">155</text><text y="52">Custo = 7</text></g>
<g id="n125" class="i" transform="translate(4850.3 1111.5)"><rect x="-56.75" width="113.5" height="61"/><path d="M-56.75 30.5H56.75"/><text y="24">125</text><text y="52">Custo = 4</text></g>
<g id="n161" class="i" transform="translate(4991.3 1111.5)"><rect x="-59.25" width="118.5" height="61"/><path d="M-59.25 30.5H59.25"/><text y="24">161</text><text y="52">Custo = 14</text></g>
<g id="n130" class="i" transform="translate(5851.6 1111.5)"><rect x="-56.75" width="113.5" height="61"/><path d="M-56.75 30.5H56.75"/><text y="24">130</text><text y="52">Custo = 2</text></g>
<g id="n146" class="i" transform="translate(6356.7 1111.5)"><rect x="-59.25" width="118.5" height="61"/><path d="M-59.25 30.5H59.25"/><text y="24">146</text><text y="52">Custo = 10</text></g>
<g id="n113" class="i" transform="translate(960.7 1222.1)"><rect x="-56.75" width="113.5" height="61"/><path d="M-56.75 30.5H56.75"/><text y="24">113</text><text y="52">Custo = 4</text></g>
<g id="n64" class="f" transform="translate(895.8 337.3)"><rect x="-47.7" width="95.4" height="61"/><text y="24">64</text><text y="52">concolor</text></g>
<g id="n96" class="f" transform="translate(565.4 447.9)"><rect x="-49.8" width="99.6" height="61"/><text y="24">96</text><text y="52">sinuaticol</text></g>
<g id="n65" class="f" transform="translate(969 447.9)"><rect x="-48" width="96" height="61"/><text y="24">65</text><text y="52">crassipes</text></g>
<g id="n67" class="f" transform="translate(1078.8 447.9)"><rect x="-37.8" width="75.6" height="61"/><text y="24">67</text><text y="52">henryi</text></g>
<g id="n63" class="f" transform="translate(1730.3 447.9)"><rect x="-59.65" width="119.3" height="61"/><text y="24">63</text><text y="52">cinnamopte</text></g>
<g id="n68" class="f" transform="translate(43.8 558.5)"><rect x="-39" width="78" height="61"/><text y="24">68</text><text y="52">lucidus</text></g>
<g id="n102" class="f" transform="translate(155.7 558.5)"><rect x="-49.8" width="99.6" height="61"/><text y="24">102</text><text y="52">discrmins</text></g>
<g id="n93" class="f" transform="translate(281 558.5)"><rect x="-51.5" width="103" height="61"/><text y="24">93</text><text y="52">perplexus</text></g>
<g id="n108" class="f" transform="translate(569.6 558.5)"><rect x="-47.7" width="95.4" height="61"/><text y="24">108</text><text y="52">schwarzi</text></g>
<g id="n88" class="f" transform="translate(1158.3 558.5)"><rect x="-46.65" width="93.3" height="61"/><text y="24">88</text><text y="52">erraticus</text></g>
<g id="n100" class="f" transform="translate(1444.6 558.5)"><rect x="-49.45" width="98.9" height="61"/><text y="24">100</text><text y="52">brunneus</text></g>
<g id="n94" class="f" transform="translate(291.8 669.1)"><rect x="-40" width="80" height="61"/><text y="24">94</text><text y="52">pusillus</text></g>
<g id="n77" class="f" transform="translate(1162.2 669.1)"><rect x="-43.5" width="87" height="61"/><text y="24">77</text><text y="52">exiguus</text></g>
<g id="n60" class="f" transform="translate(1809 669.1)"><rect x="-58.95" width="117.9" height="61"/><text y="24">60</text><text y="52">americanus</text></g>
<g id="n40" class="f" transform="translate(2623.7 669.1)"><rect x="-51.55" width="103.1" height="61"/><text y="24">40</text><text y="52">aenescatr</text></g>
<g id="n41" class="f" transform="translate(2739.6 669.1)"><rect x="-41.05" width="82.1" height="61"/><text y="24">41</text><text y="52">amplus</text></g>
<g id="n42" class="f" transform="translate(3139 669.1)"><rect x="-53.5" width="107" height="61"/><text y="24">42</text><text y="52">samoanus</text></g>
<g id="n81" class="f" transform="translate(3255.5 669.1)"><rect x="-39.65" width="79.3" height="61"/><text y="24">81</text><text y="52">gracilis</text></g>
<g id="n14" class="f" transform="translate(4506 669.1)"><rect x="-51.9" width="103.8" height="61"/><text y="24">14</text><text y="52">rufescens</text></g>
<g id="n16" class="f" transform="translate(5605.2 669.1)"><rect x="-39.4" width="78.8" height="61"/><text y="24">16</text><text y="52">arecae</text></g>
<g id="n103" class="f" transform="translate(271.8 779.7)"><rect x="-55.75" width="111.5" height="61"/><text y="24">103</text><text y="52">explanatus</text></g>
<g id="n74" class="f" transform="translate(550.3 779.7)"><rect x="-50.85" width="101.7" height="61"/><text y="24">74</text><text y="52">cembroid</text></g>
<g id="n101" class="f" transform="translate(682.6 779.7)"><rect x="-57.5" width="115" height="61"/><text y="24">101</text><text y="52">chiricahuae</text></g>
<g id="n83" class="f" transform="translate(1150.7 779.7)"><rect x="-52.95" width="105.9" height="61"/><text y="24">83</text><text y="52">stonedahli</text></g>
<g id="n97" class="f" transform="translate(1405 779.7)"><rect x="-36.5" width="73" height="61"/><text y="24">97</text><text y="52">choii</text></g>
<g id="n112" class="f" transform="translate(1505.3 779.7)"><rect x="-40" width="80" height="61"/><text y="24">112</text><text y="52">walshii</text></g>
<g id="n99" class="f" transform="translate(1604.9 779.7)"><rect x="-36.5" width="73" height="61"/><text y="24">99</text><text y="52">balli</text></g>
<g id="n105" class="f" transform="translate(1726.3 779.7)"><rect x="-61.05" width="122.1" height="61"/><text y="24">105</text><text y="52">neoclavatus</text></g>
<g id="n50" class="f" transform="translate(1850 779.7)"><rect x="-38.95" width="77.9" height="61"/><text y="24">50</text><text y="52">pilosus</text></g>
<g id="n89" class="f" transform="translate(2113.1 779.7)"><rect x="-57.1" width="114.2" height="61"/><text y="24">89</text><text y="52">miyamotoi</text></g>
<g id="n78" class="f" transform="translate(2742.3 779.7)"><rect x="-52.25" width="104.5" height="61"/><text y="24">78</text><text y="52">floridanus</text></g>
<g id="n80" class="f" transform="translate(2864.6 779.7)"><rect x="-46.3" width="92.6" height="61"/><text y="24">80</text><text y="52">geminus</text></g>
<g id="n84" class="f" transform="translate(2996.5 779.7)"><rect x="-62.45" width="124.9" height="61"/><text y="24">84</text><text y="52">yunganensis</text></g>
<g id="n46" class="f" transform="translate(3272.8 779.7)"><rect x="-44.9" width="89.8" height="61"/><text y="24">46</text><text y="52">daradae</text></g>
<g id="n53" class="f" transform="translate(3382.2 779.7)"><rect x="-40" width="80" height="61"/><text y="24">53</text><text y="52">sundae</text></g>
<g id="n15" class="f" transform="translate(4369.3 779.7)"><rect x="-44.9" width="89.8" height="61"/><text y="24">15</text><text y="52">suturalis</text></g>
<g id="n12" class="f" transform="translate(4633.9 779.7)"><rect x="-51.55" width="103.1" height="61"/><text y="24">12</text><text y="52">papuensis</text></g>
<g id="n29" class="f" transform="translate(5403.6 779.7)"><rect x="-52.8" width="105.6" height="61"/><text y="24">29</text><text y="52">demmingi</text></g>
<g id="n91" class="f" transform="translate(315.7 890.3)"><rect x="-36.5" width="73" height="61"/><text y="24">91</text><text y="52">niger</text></g>
<g id="n106" class="f" transform="translate(655.5 890.3)"><rect x="-57.15" width="114.3" height="61"/><text y="24">106</text><text y="52">nevadensis</text></g>
<g id="n75" class="f" transform="translate(1286.4 890.3)"><rect x="-55.05" width="110.1" height="61"/><text y="24">75</text><text y="52">clavicornis</text></g>
<g id="n79" class="f" transform="translate(1415.9 890.3)"><rect x="-50.85" width="101.7" height="61"/><text y="24">79</text><text y="52">fuscipenn</text></g>
<g id="n43" class="f" transform="translate(1867.6 890.3)"><rect x="-45.95" width="91.9" height="61"/><text y="24">43</text><text y="52">alstakeri</text></g>
<g id="n51" class="f" transform="translate(1980.5 890.3)"><rect x="-43.85" width="87.7" height="61"/><text y="24">51</text><text y="52">torrevill</text></g>
<g id="n76" class="f" transform="translate(2114.8 890.3)"><rect x="-51.8" width="103.6" height="61"/><text y="24">76</text><text y="52">dislocatus</text></g>
<g id="n82" class="f" transform="translate(2243.5 890.3)"><rect x="-53.65" width="107.3" height="61"/><text y="24">82</text><text y="52">schaffneri</text></g>
<g id="n70" class="f" transform="translate(2373.3 890.3)"><rect x="-51.55" width="103.1" height="61"/><text y="24">70</text><text y="52">strobicola</text></g>
<g id="n90" class="f" transform="translate(3007.8 890.3)"><rect x="-58.95" width="117.9" height="61"/><text y="24">90</text><text y="52">mongolicus</text></g>
<g id="n92" class="f" transform="translate(3143 890.3)"><rect x="-52.65" width="105.3" height="61"/><text y="24">92</text><text y="52">okamotoi</text></g>
<g id="n5" class="f" transform="translate(3970 890.3)"><rect x="-59.65" width="119.3" height="61"/><text y="24">5</text><text y="52">maldonadoi</text></g>
<g id="n9" class="f" transform="translate(4104.7 890.3)"><rect x="-51.95" width="103.9" height="61"/><text y="24">9</text><text y="52">liberiensis</text></g>
<g id="n36" class="f" transform="translate(4231.7 890.3)"><rect x="-51.85" width="103.7" height="61"/><text y="24">36</text><text y="52">rustenbes</text></g>
<g id="n11" class="f" transform="translate(4491.8 890.3)"><rect x="-48.4" width="96.8" height="61"/><text y="24">11</text><text y="52">pacificae</text></g>
<g id="n7" class="f" transform="translate(4746.2 890.3)"><rect x="-43.15" width="86.3" height="61"/><text y="24">7</text><text y="52">vulgaris</text></g>
<g id="n20" class="f" transform="translate(4996.9 890.3)"><rect x="-44.2" width="88.4" height="61"/><text y="24">20</text><text y="52">nigritula</text></g>
<g id="n38" class="f" transform="translate(5257.3 890.3)"><rect x="-59" width="118" height="61"/><text y="24">38</text><text y="52">heidemanni</text></g>
<g id="n39" class="f" transform="translate(5398.6 890.3)"><rect x="-58.5" width="117" height="61"/><text y="24">39</text><text y="52">druthmarus</text></g>
<g id="n27" class="f" transform="translate(5805.3 890.3)"><rect x="-48.2" width="96.4" height="61"/><text y="24">27</text><text y="52">linnavuoi</text></g>
<g id="n28" class="f" transform="translate(5914.4 890.3)"><rect x="-37.1" width="74.2" height="61"/><text y="24">28</text><text y="52">lestoni</text></g>
<g id="n57" class="f" transform="translate(389.3 1000.9)"><rect x="-38.5" width="77" height="61"/><text y="24">57</text><text y="52">furvus</text></g>
<g id="n58" class="f" transform="translate(510.3 1000.9)"><rect x="-59.25" width="118.5" height="61"/><text y="24">58</text><text y="52">heidemanni</text></g>
<g id="n85" class="f" transform="translate(671.4 1000.9)"><rect x="-45.5" width="91" height="61"/><text y="24">85</text><text y="52">clavatus</text></g>
<g id="n107" class="f" transform="translate(776.6 1000.9)"><rect x="-36.5" width="73" height="61"/><text y="24">107</text><text y="52">salicis</text></g>
<g id="n62" class="f" transform="translate(1167.5 1000.9)"><rect x="-55" width="110" height="61"/><text y="24">62</text><text y="52">angustulus</text></g>
<g id="n61" class="f" transform="translate(2374.3 1000.9)"><rect x="-49.8" width="99.6" height="61"/><text y="24">61</text><text y="52">amoenus</text></g>
<g id="n66" class="f" transform="translate(2630.7 1000.9)"><rect x="-44.55" width="89.1" height="61"/><text y="24">66</text><text y="52">diffusus</text></g>
<g id="n73" class="f" transform="translate(2733.8 1000.9)"><rect x="-36.1" width="72.2" height="61"/><text y="24">73</text><text y="52">uhleri</text></g>
<g id="n71" class="f" transform="translate(2834.3 1000.9)"><rect x="-39.65" width="79.3" height="61"/><text y="24">71</text><text y="52">taxodii</text></g>
<g id="n72" class="f" transform="translate(2934.1 1000.9)"><rect x="-37.2" width="74.4" height="61"/><text y="24">72</text><text y="52">tibialis</text></g>
<g id="n45" class="f" transform="translate(3162.3 1000.9)"><rect x="-40.25" width="80.5" height="61"/><text y="24">45</text><text y="52">dailahn</text></g>
<g id="n47" class="f" transform="translate(3274.4 1000.9)"><rect x="-47.7" width="95.4" height="61"/><text y="24">47</text><text y="52">formosa</text></g>
<g id="n44" class="f" transform="translate(3394.1 1000.9)"><rect x="-48.4" width="96.8" height="61"/><text y="24">44</text><text y="52">arboreus</text></g>
<g id="n52" class="f" transform="translate(3505.5 1000.9)"><rect x="-40.35" width="80.7" height="61"/><text y="24">52</text><text y="52">typicus</text></g>
<g id="n48" class="f" transform="translate(3606.4 1000.9)"><rect x="-36.15" width="72.3" height="61"/><text y="24">48</text><text y="52">fyan</text></g>
<g id="n49" class="f" transform="translate(3718.6 1000.9)"><rect x="-51.55" width="103.1" height="61"/><text y="24">49</text><text y="52">kockensis</text></g>
<g id="n56" class="f" transform="translate(3836.8 1000.9)"><rect x="-43.5" width="87" height="61"/><text y="24">56</text><text y="52">prolixus</text></g>
<g id="n4" class="f" transform="translate(4307.3 1000.9)"><rect x="-42.8" width="85.6" height="61"/><text y="24">4</text><text y="52">hansoni</text></g>
<g id="n13" class="f" transform="translate(4429 1000.9)"><rect x="-54.35" width="108.7" height="61"/><text y="24">13</text><text y="52">piceoniger</text></g>
<g id="n8" class="f" transform="translate(4571.8 1000.9)"><rect x="-44.9" width="89.8" height="61"/><text y="24">8</text><text y="52">australis</text></g>
<g id="n10" class="f" transform="translate(4677.1 1000.9)"><rect x="-36.5" width="73" height="61"/><text y="24">10</text><text y="52">nigra</text></g>
<g id="n3" class="f" transform="translate(4791.8 1000.9)"><rect x="-49.45" width="98.9" height="61"/><text y="24">3</text><text y="52">carvalhoi</text></g>
<g id="n18" class="f" transform="translate(5103.5 1000.9)"><rect x="-43.5" width="87" height="61"/><text y="24">18</text><text y="52">cunealis</text></g>
<g id="n33" class="f" transform="translate(5413.2 1000.9)"><rect x="-44.75" width="89.5" height="61"/><text y="24">33</text><text y="52">morobe</text></g>
<g id="n32" class="f" transform="translate(5669.2 1000.9)"><rect x="-41.35" width="82.7" height="61"/><text y="24">32</text><text y="52">maesta</text></g>
<g id="n22" class="f" transform="translate(5924.8 1000.9)"><rect x="-47.45" width="94.9" height="61"/><text y="24">22</text><text y="52">cynanchi</text></g>
<g id="n23" class="f" transform="translate(6047.6 1000.9)"><rect x="-50.9" width="101.8" height="61"/><text y="24">23</text><text y="52">uniformis</text></g>
<g id="n24" class="f" transform="translate(6170.6 1000.9)"><rect x="-45.15" width="90.3" height="61"/><text y="24">24</text><text y="52">russeola</text></g>
<g id="n110" class="f" transform="translate(755.5 1111.5)"><rect x="-59.65" width="119.3" height="61"/><text y="24">110</text><text y="52">tomentosus</text></g>
<g id="n104" class="f" transform="translate(1030.6 1111.5)"><rect x="-53" width="106" height="61"/><text y="24">104</text><text y="52">longisetos</text></g>
<g id="n111" class="f" transform="translate(1150.3 1111.5)"><rect x="-42.8" width="85.6" height="61"/><text y="24">111</text><text y="52">vicarius</text></g>
<g id="n95" class="f" transform="translate(1284 1111.5)"><rect x="-48.75" width="97.5" height="61"/><text y="24">95</text><text y="52">setulosus</text></g>
<g id="n109" class="f" transform="translate(1395.5 1111.5)"><rect x="-39.6" width="79.2" height="61"/><text y="24">109</text><text y="52">setiger</text></g>
<g id="n59" class="f" transform="translate(2440.9 1111.5)"><rect x="-55.45" width="110.9" height="61"/><text y="24">59</text><text y="52">juniplaetus</text></g>
<g id="n69" class="f" transform="translate(2567.9 1111.5)"><rect x="-47" width="94" height="61"/><text y="24">69</text><text y="52">piceicola</text></g>
<g id="n54" class="f" transform="translate(3897.1 1111.5)"><rect x="-36.5" width="73" height="61"/><text y="24">54</text><text y="52">culion</text></g>
<g id="n55" class="f" transform="translate(4025.1 1111.5)"><rect x="-68.4" width="136.8" height="61"/><text y="24">55</text><text y="52">myrmecoides</text></g>
<g id="n17" class="f" transform="translate(5199.6 1111.5)"><rect x="-59.65" width="119.3" height="61"/><text y="24">17</text><text y="52">austsamueli</text></g>
<g id="n19" class="f" transform="translate(5322.5 1111.5)"><rect x="-39.8" width="79.6" height="61"/><text y="24">19</text><text y="52">nairobi</text></g>
<g id="n30" class="f" transform="translate(5462.5 1111.5)"><rect x="-38.3" width="76.6" height="61"/><text y="24">30</text><text y="52">ifugao</text></g>
<g id="n31" class="f" transform="translate(5566.2 1111.5)"><rect x="-40.9" width="81.8" height="61"/><text y="24">31</text><text y="52">koroba</text></g>
<g id="n35" class="f" transform="translate(5733 1111.5)"><rect x="-37.1" width="74.2" height="61"/><text y="24">35</text><text y="52">opima</text></g>
<g id="n26" class="f" transform="translate(6230.5 1111.5)"><rect x="-43.25" width="86.5" height="61"/><text y="24">26</text><text y="52">yotvata</text></g>
<g id="n98" class="f" transform="translate(829.9 1222.1)"><rect x="-49.8" width="99.6" height="61"/><text y="24">98</text><text y="52">koreanus</text></g>
<g id="n2" class="f" transform="translate(4724.7 1222.1)"><rect x="-59.65" width="119.3" height="61"/><text y="24">2</text><text y="52">carmelitana</text></g>
<g id="n6" class="f" transform="translate(4855.9 1222.1)"><rect x="-47.7" width="95.4" height="61"/><text y="24">6</text><text y="52">rondonia</text></g>
<g id="n0" class="f" transform="translate(4985 1222.1)"><rect x="-47" width="94" height="61"/><text y="24">0</text><text y="52">ancestor</text></g>
<g id="n1" class="f" transform="translate(5113.1 1222.1)"><rect x="-57.85" width="115.7" height="61"/><text y="24">1</text><text y="52">araguaiana</text></g>
<g id="n34" class="f" transform="translate(5800.8 1222.1)"><rect x="-40.55" width="81.1" height="61"/><text y="24">34</text><text y="52">munroi</text></g>
<g id="n37" class="f" transform="translate(5902.2 1222.1)"><rect x="-36.35" width="72.7" height="61"/><text y="24">37</text><text y="52">visci</text></g>
<g id="n21" class="f" transform="translate(6297.9 1222.1)"><rect x="-49.35" width="98.7" height="61"/><text y="24">21</text><text y="52">transvaal</text></g>
<g id="n25" class="f" transform="translate(6414.2 1222.1)"><rect x="-42.45" width="84.9" height="61"/><text y="24">25</text><text y="52">samaru</text></g>
<g id="n86" class="f" transform="translate(897.9 1332.7)"><rect x="-47.7" width="95.4" height="61"/><text y="24">86</text><text y="52">confusus</text></g>
<g id="n87" class="f" transform="translate(1022.1 1332.7)"><rect x="-51.9" width="103.8" height="61"/><text y="24">87</text><text y="52">disjunctus</text></g>
</g>
</svg>
